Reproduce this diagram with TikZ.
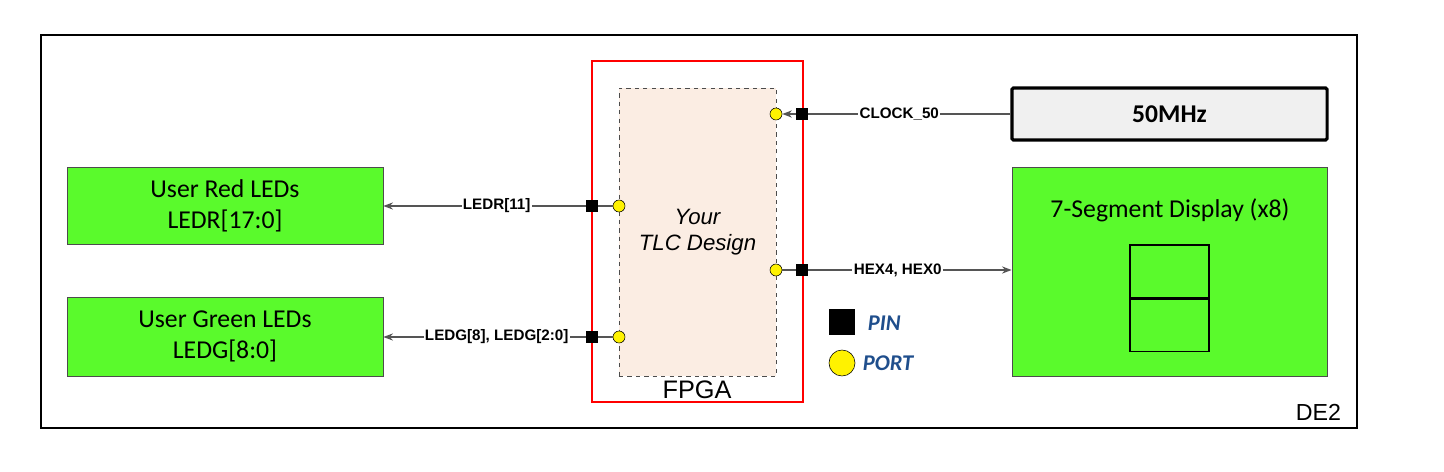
\documentclass[tikz,border=0pt]{standalone}
\usepackage{fontspec}
\setmainfont{Liberation Sans}
\newfontfamily\calibri{Carlito}
\usetikzlibrary{arrows.meta}

\definecolor{boardgreen}{RGB}{90,250,44}
\definecolor{corefill}{RGB}{251,237,227}
\definecolor{clockfill}{RGB}{240,240,240}
\definecolor{legendblue}{RGB}{31,78,140}
\definecolor{wiregray}{RGB}{85,85,85}

\begin{document}
\begin{tikzpicture}[x=0.025cm, y=-0.025cm, >={Stealth[length=2.4mm, width=1.8mm]},
    greenbox/.style={draw=black!70, line width=0.5pt, fill=boardgreen,
        inner sep=0pt, align=center, font=\calibri\fontsize{18.3}{22}\selectfont},
    pinsq/.style={fill=black, inner sep=0pt, minimum size=3mm},
    portdot/.style={circle, draw=black, line width=0.4pt, fill=yellow,
        inner sep=0pt, minimum size=3mm},
    wire/.style={draw=wiregray, line width=0.8pt},
    sig/.style={fill=white, inner sep=1pt, font=\bfseries\fontsize{10.8}{13}\selectfont},
    legend/.style={anchor=west, text=legendblue,
        font=\calibri\bfseries\itshape\fontsize{16}{18}\selectfont}]

\useasboundingbox (0,0) rectangle (1444,472);

% ═══════════════════════════════════════════════════════
% PLACA Y FPGA
% ═══════════════════════════════════════════════════════

% placa DE2
\node[draw=black, line width=1.8pt, minimum width=329mm, minimum height=98.25mm,
      inner sep=0pt] (board) at (699,231.5) {};
\node[anchor=east, font=\fontsize{16.5}{18}\selectfont] (boardname) at (1346,412) {DE2};

% FPGA
\node[draw=red, line width=1.4pt, minimum width=52.75mm, minimum height=85.25mm,
      inner sep=0pt] (fpga) at (697.5,231.5) {};
\node[draw=black!70, dashed, line width=0.5pt, fill=corefill, minimum width=39.25mm,
      minimum height=72mm, inner sep=0pt, align=center,
      font=\itshape\fontsize{15.8}{18.4}\selectfont] (core) at (697.5,232)
    {Your\\TLC Design};
\node[font=\fontsize{18}{20}\selectfont] (fpganame) at (697,390) {FPGA};

% ═══════════════════════════════════════════════════════
% BLOQUES DE LA PLACA
% ═══════════════════════════════════════════════════════

% reloj
\node[draw=black, line width=2.2pt, rounded corners=1pt, fill=clockfill,
      minimum width=78.75mm, minimum height=13mm, inner sep=0pt,
      font=\calibri\bfseries\fontsize{18.2}{20}\selectfont] (clk) at (1169.5,114) {50MHz};

% display de 7 segmentos
\node[greenbox, minimum width=78.75mm, minimum height=52.25mm] (seg) at (1169.5,271.5) {};
\node[font=\calibri\fontsize{18.3}{20}\selectfont] (segtitle) at (1170,210)
    {7-Segment Display (x8)};
\node[draw=black, line width=1pt, minimum width=19.75mm, minimum height=13.25mm,
      inner sep=0pt] (digtop) at (1169.5,271.5) {};
\node[draw=black, line width=1pt, minimum width=19.75mm, minimum height=13mm,
      inner sep=0pt, anchor=north] (digbot) at (digtop.south) {};

% LEDs
\node[greenbox, minimum width=79mm, minimum height=19.25mm] (ledr) at (225,205.5)
    {User Red LEDs\\LEDR[17:0]};
\node[greenbox, minimum width=79mm, minimum height=19.75mm] (ledg) at (225,336.5)
    {User Green LEDs\\LEDG[8:0]};

% ═══════════════════════════════════════════════════════
% PINES Y PUERTOS
% ═══════════════════════════════════════════════════════

\node[pinsq] (pinclk) at (802,114) {};
\node[portdot] (portclk) at (776,114) {};
\node[pinsq] (pinhex) at (802,270) {};
\node[portdot] (porthex) at (776,270) {};
\node[pinsq] (pinr) at (592,206) {};
\node[portdot] (portr) at (619,206) {};
\node[pinsq] (ping) at (592,337) {};
\node[portdot] (portg) at (619,337) {};

% ═══════════════════════════════════════════════════════
% CONEXIONES
% ═══════════════════════════════════════════════════════

% CLOCK_50
\draw[wire] (clk.west) -- (pinclk.east) node[sig, pos=0.55] {CLOCK\_50};
\draw[wire, ->] (pinclk.west) -- (portclk.east);

% HEX
\draw[wire] (porthex.east) -- (pinhex.west);
\draw[wire, ->] (pinhex.east) -- (seg.west |- pinhex) node[sig, pos=0.44] {HEX4, HEX0};

% LEDR
\draw[wire] (portr.west) -- (pinr.east);
\draw[wire, ->] (pinr.west) -- (ledr.east |- pinr) node[sig, pos=0.44] {LEDR[11]};

% LEDG
\draw[wire] (portg.west) -- (ping.east);
\draw[wire, ->] (ping.west) -- (ledg.east |- ping) node[sig, pos=0.44] {LEDG[8], LEDG[2:0]};

% ═══════════════════════════════════════════════════════
% LEYENDA
% ═══════════════════════════════════════════════════════

\node[pinsq, minimum size=6.5mm] (legpin) at (842,322) {};
\node[legend] (legpintext) at (863,323) {PIN};
\node[portdot, minimum size=6.5mm] (legport) at (842,363) {};
\node[legend] (legporttext) at (858,363) {PORT};

\end{tikzpicture}
\end{document}
